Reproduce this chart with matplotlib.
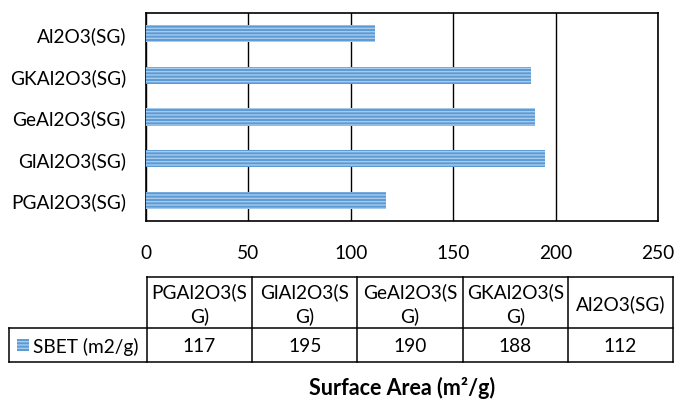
import matplotlib
matplotlib.use("Agg")
import matplotlib.pyplot as plt

categories = ["PGAl2O3(SG)", "GlAl2O3(SG)", "GeAl2O3(SG)", "GKAl2O3(SG)", "Al2O3(SG)"]
sbet = [117, 195, 190, 188, 112]
series_name = "SBET (m2/g)"
x_ticks = [0, 50, 100, 150, 200, 250]
x_title = "Surface Area (m\u00b2/g)"

FONT = ["Lato", "DejaVu Sans"]
plt.rcParams["font.family"] = FONT
plt.rcParams["hatch.linewidth"] = 1.0
FS = 13.8

W, H = 675, 402
fig = plt.figure(figsize=(W / 100, H / 100), dpi=100)

def px_axes(l, t, r, b):
    return fig.add_axes([l / W, 1 - b / H, (r - l) / W, (b - t) / H])

bar_color = "#5B9BD5"
stripe_color = "#A8CBEC"

ax = px_axes(146, 14, 658, 222)
ypos = list(range(len(categories)))
ax.barh(ypos, sbet, height=0.41, color=bar_color, hatch="-----",
        edgecolor=stripe_color, linewidth=0, zorder=3)
ax.set_xlim(x_ticks[0], x_ticks[-1])
ax.set_ylim(-0.5, len(categories) - 0.5)
ax.set_xticks(x_ticks)
ax.set_xticklabels([str(t) for t in x_ticks], fontsize=FS)
ax.set_yticks(ypos)
ax.set_yticklabels(categories, fontsize=FS)
ax.tick_params(axis="both", length=0, colors="#000000")
ax.tick_params(axis="y", pad=14.4)
ax.tick_params(axis="x", pad=16.5)
ax.xaxis.grid(True, color="black", linewidth=1.0, zorder=1)
ax.set_axisbelow(True)
for s in ax.spines.values():
    s.set_color("black")
    s.set_linewidth(1.2)

# table overlay
ov = fig.add_axes([0, 0, 1, 1])
ov.set_xlim(0, W)
ov.set_ylim(H, 0)
ov.axis("off")

col_left = 146.7
col_w = 105.3
n = len(categories)
top, mid, bot = 277.7, 329.0, 362.7
row_left = 9
right = col_left + n * col_w
lw = 1.1
ov.plot([col_left, right], [top, top], color="black", lw=lw)
ov.plot([row_left, right], [mid, mid], color="black", lw=lw)
ov.plot([row_left, right], [bot, bot], color="black", lw=lw)
ov.plot([row_left, row_left], [mid, bot], color="black", lw=lw)
for i in range(n + 1):
    x = col_left + i * col_w
    ov.plot([x, x], [top, bot], color="black", lw=lw)

def wrap(s, k=9):
    return s if len(s) <= k else s[:k] + "\n" + s[k:]

for i, (c, v) in enumerate(zip(categories, sbet)):
    cx = col_left + (i + 0.5) * col_w
    ov.text(cx, (top + mid) / 2 + 1, wrap(c), ha="center", va="center",
            fontsize=FS, linespacing=1.4)
    ov.text(cx, (mid + bot) / 2 + 1, str(v), ha="center", va="center", fontsize=FS)

ov.add_patch(plt.Rectangle((17, 340), 12, 12, facecolor=bar_color, hatch="-----",
                           edgecolor=stripe_color, linewidth=0))
ov.text(33, (mid + bot) / 2 + 1, series_name, ha="left", va="center", fontsize=FS)

fig.text(402 / W, 1 - 388 / H, x_title, ha="center", va="center",
         fontsize=15.5, fontweight="bold", family=FONT)

fig.savefig("out.png", dpi=100)
